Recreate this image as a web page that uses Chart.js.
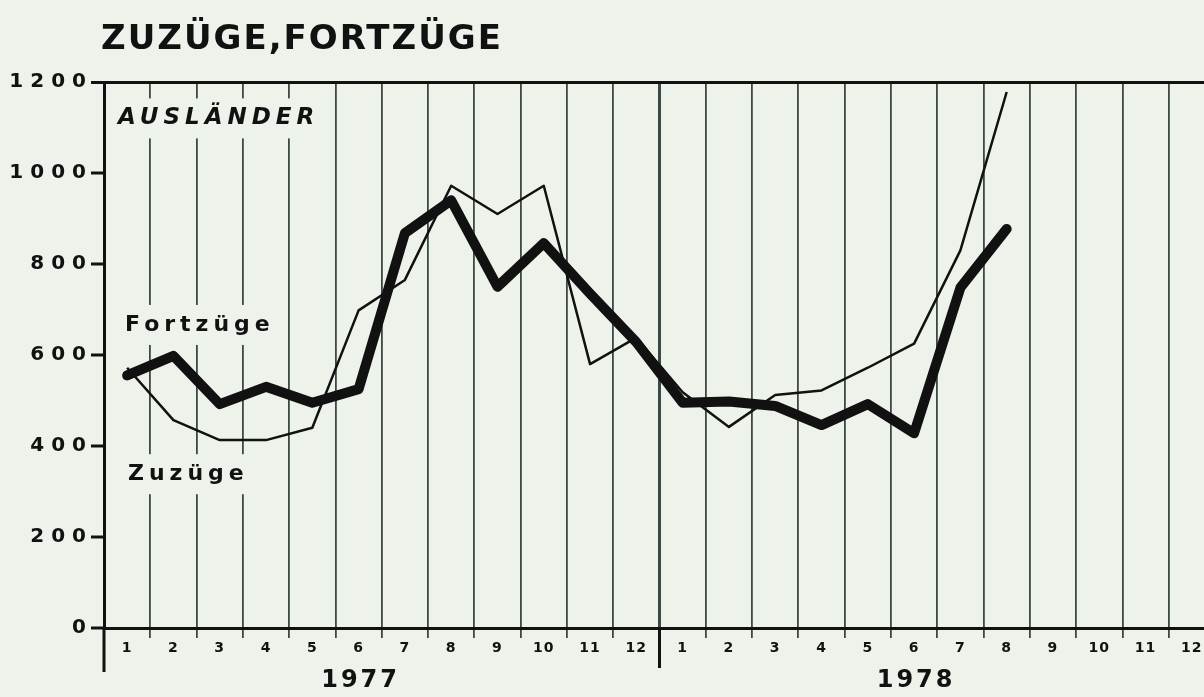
<!DOCTYPE html>
<html lang="de">
<head>
  <meta charset="UTF-8">
  <title>Zuzüge, Fortzüge – Ausländer</title>
  <style>
    * { box-sizing: border-box; margin: 0; padding: 0; }
    html, body { width: 1204px; height: 697px; overflow: hidden; background: #edf2ea; }
    .wrap { position: relative; width: 1225px; height: 697px; }
    canvas { display: block; }
  </style>
</head>
<body>
  <div class="wrap">
    <canvas id="chart" width="1225" height="697"></canvas>
  </div>

  <script src="https://cdn.jsdelivr.net/npm/chart.js"></script>
  <script>
    // Daten
    var monthLabels = ['1','2','3','4','5','6','7','8','9','10','11','12',
                       '1','2','3','4','5','6','7','8','9','10','11','12'];
    var yearLabels = ['1977', '1978'];
    var fortzuege = [555, 598, 492, 530, 495, 525, 868, 940, 750, 846, 735, 628,
                     495, 498, 488, 446, 492, 428, 748, 877, null, null, null, null];
    var zuzuege   = [572, 457, 413, 413, 440, 698, 765, 972, 910, 972, 580, 638,
                     518, 442, 512, 522, 572, 625, 830, 1178, null, null, null, null];

    var BG = '#edf2ea';
    var INK = '#111';
    var GRID = '#3c4845';
    var FONT = '"DejaVu Sans", sans-serif';

    function textBox(ctx, text, x, y, font, spacing) {
      ctx.font = font;
      ctx.letterSpacing = spacing + 'px';
      var w = ctx.measureText(text).width;
      ctx.fillStyle = BG;
      ctx.fillRect(x - 8, y - 20, w + 12, 40);
      ctx.fillStyle = INK;
      ctx.textAlign = 'left';
      ctx.textBaseline = 'middle';
      ctx.fillText(text, x, y);
    }

    var overlay = {
      id: 'overlay',
      beforeDraw: function(chart) {
        chart.ctx.letterSpacing = '1px';
      },
      beforeDatasetsDraw: function(chart) {
        var ctx = chart.ctx, a = chart.chartArea, ys = chart.scales.y;
        ctx.save();
        textBox(ctx, 'AUSLÄNDER', a.left + 14, ys.getPixelForValue(1120), 'italic bold 23px ' + FONT, 5);
        textBox(ctx, 'Fortzüge', a.left + 21, ys.getPixelForValue(666), 'bold 22px ' + FONT, 5);
        textBox(ctx, 'Zuzüge', a.left + 24, ys.getPixelForValue(338), 'bold 22px ' + FONT, 5);
        ctx.restore();
      },
      afterDraw: function(chart) {
        var ctx = chart.ctx, a = chart.chartArea, xs = chart.scales.x;
        ctx.save();
        // Achsenverlängerungen unter der Nulllinie
        ctx.strokeStyle = INK;
        ctx.lineWidth = 3;
        ctx.beginPath();
        ctx.moveTo(a.left, a.bottom); ctx.lineTo(a.left, a.bottom + 44);
        var yb = (xs.getPixelForValue(11) + xs.getPixelForValue(12)) / 2;
        ctx.moveTo(yb, a.bottom); ctx.lineTo(yb, a.bottom + 40);
        ctx.stroke();

        // Titel
        ctx.fillStyle = INK;
        ctx.font = 'bold 34px ' + FONT;
        ctx.letterSpacing = '2px';
        ctx.textAlign = 'left';
        ctx.textBaseline = 'middle';
        ctx.fillText('ZUZÜGE,FORTZÜGE', 101, 40);

        // Jahre
        ctx.font = 'bold 24px ' + FONT;
        ctx.letterSpacing = '3px';
        ctx.textAlign = 'center';
        ctx.fillText(yearLabels[0], xs.getPixelForValue(5) + 2, 681);
        ctx.fillText(yearLabels[1], xs.getPixelForValue(17) + 2, 681);
        ctx.restore();
      }
    };

    var ctx = document.getElementById('chart').getContext('2d');
    new Chart(ctx, {
      type: 'line',
      data: {
        labels: monthLabels,
        datasets: [
          { label: 'Fortzüge', data: fortzuege, borderColor: INK, borderWidth: 10,
            borderJoinStyle: 'round', borderCapStyle: 'round', pointRadius: 0, tension: 0 },
          { label: 'Zuzüge', data: zuzuege, borderColor: INK, borderWidth: 2.5,
            borderJoinStyle: 'round', pointRadius: 0, tension: 0 }
        ]
      },
      options: {
        responsive: false,
        animation: false,
        devicePixelRatio: 1,
        layout: { padding: { top: 82, right: 10, left: 0, bottom: 0 } },
        plugins: { legend: { display: false }, tooltip: { enabled: false } },
        scales: {
          x: {
            type: 'category',
            offset: true,
            border: { color: INK, width: 3 },
            grid: {
              offset: true,
              color: GRID,
              tickColor: GRID,
              lineWidth: function(c) { return c.index === 12 ? 3 : 1.8; },
              tickLength: 10
            },
            ticks: { color: INK, font: { family: FONT, size: 14, weight: 'bold' }, padding: 2, maxRotation: 0, autoSkip: false },
            afterFit: function(s) { s.height = 69; }
          },
          y: {
            min: 0, max: 1200,
            border: { color: INK, width: 3 },
            grid: {
              color: function(c) { return c.tick.value === 1200 ? INK : 'rgba(0,0,0,0)'; },
              lineWidth: function(c) { return c.tick.value === 1200 ? 3 : 0; },
              tickColor: INK,
              tickWidth: 3,
              tickLength: 13
            },
            ticks: {
              stepSize: 200, color: INK, font: { family: FONT, size: 20, weight: 'bold' }, padding: 4,
              callback: function(v) { return String(v).split('').join('\u2005'); }
            },
            afterFit: function(s) { s.width = 104; }
          }
        }
      },
      plugins: [overlay]
    });
  </script>
</body>
</html>
